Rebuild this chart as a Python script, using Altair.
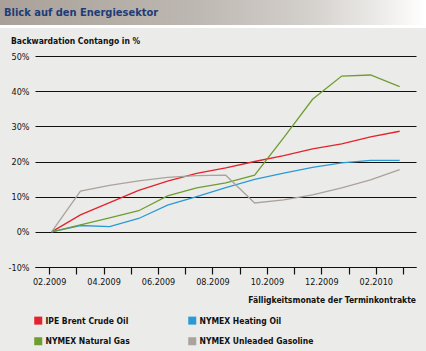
import altair as alt
import pandas as pd

chart_title = "Blick auf den Energiesektor"
y_title = "Backwardation Contango in %"
x_title = "Fälligkeitsmonate der Terminkontrakte"

# tick positions (months after 02.2009) and their labels
tick_values = list(range(14))
tick_labels = ["02.2009", "", "04.2009", "", "06.2009", "", "08.2009", "",
               "10.2009", "", "12.2009", "", "02.2010", ""]

# contract positions on the month axis
months = [0.09, 1.15, 2.22, 3.29, 4.35, 5.42, 6.49, 7.55, 8.62, 9.68, 10.75, 11.81, 12.88]

# legend order (filled column by column)
series_names = ["IPE Brent Crude Oil", "NYMEX Natural Gas",
                "NYMEX Heating Oil", "NYMEX Unleaded Gasoline"]
series_colors = ["#e3222b", "#6f9d2f", "#2a9ad6", "#aaa29b"]

brent = [0.0, 4.8, 8.3, 11.8, 14.4, 16.6, 18.2, 20.0, 21.7, 23.6, 25.0, 27.0, 28.6]
heating = [0.0, 1.8, 1.5, 3.8, 7.6, 10.0, 12.6, 14.9, 16.7, 18.3, 19.6, 20.3, 20.3]
natgas = [0.0, 2.0, 4.0, 6.0, 10.2, 12.5, 13.9, 16.1, 26.8, 37.7, 44.3, 44.6, 41.3]
gasoline = [0.0, 11.6, 13.2, 14.5, 15.5, 16.0, 16.1, 8.2, 9.1, 10.5, 12.5, 14.8, 17.7]

rows = []
for name, vals in zip(["IPE Brent Crude Oil", "NYMEX Heating Oil",
                       "NYMEX Natural Gas", "NYMEX Unleaded Gasoline"],
                      [brent, heating, natgas, gasoline]):
    for m, v in zip(months, vals):
        rows.append({"series": name, "month": m, "value": v})
df = pd.DataFrame(rows)

FONT = "DejaVu Sans Condensed, Roboto, sans-serif"
label_expr = "[" + ",".join("'" + l + "'" for l in tick_labels) + "][datum.value]"

one = pd.DataFrame({"a": [0]})

header_white = alt.Chart(one).mark_rect(fill="#ffffff").encode(
    x=alt.value(-35), x2=alt.value(391), y=alt.value(-56), y2=alt.value(-28))

header_bar = alt.Chart(one).mark_rect(
    fill=alt.LinearGradient(
        gradient="linear", x1=0, x2=1, y1=0, y2=0,
        stops=[alt.GradientStop(color="#a9a199", offset=0),
               alt.GradientStop(color="#bdb7b1", offset=0.45),
               alt.GradientStop(color="#d3cfcb", offset=0.72),
               alt.GradientStop(color="#ebe9e7", offset=0.88),
               alt.GradientStop(color="#ffffff", offset=1)])
).encode(x=alt.value(-35), x2=alt.value(391), y=alt.value(-56), y2=alt.value(-31))

title_text = alt.Chart(one).mark_text(
    text=chart_title, align="left", baseline="middle", font=FONT,
    fontSize=11, fontWeight="bold", color="#1d3c78"
).encode(x=alt.value(-31), y=alt.value(-43))

ytitle_text = alt.Chart(one).mark_text(
    text=y_title, align="left", baseline="middle", font=FONT,
    fontSize=8.5, fontWeight="bold", color="#111111"
).encode(x=alt.value(-24), y=alt.value(-15))

xtitle_text = alt.Chart(one).mark_text(
    text=x_title, align="right", baseline="middle", font=FONT,
    fontSize=8.5, fontWeight="bold", color="#111111"
).encode(x=alt.value(381), y=alt.value(244))

lines = alt.Chart(df).mark_line(strokeWidth=1.3).encode(
    x=alt.X("month:Q",
            scale=alt.Scale(domain=[-0.52, 13.48], nice=False, zero=False),
            axis=alt.Axis(values=tick_values, labelExpr=label_expr, title=None,
                          grid=False, domain=True, domainColor="#111111",
                          domainWidth=1.2, ticks=True, tickColor="#111111",
                          tickSize=7, tickWidth=1.2, labelPadding=3,
                          labelFont=FONT, labelFontSize=9, labelColor="#111111",
                          labelOverlap=False, labelFlush=False)),
    y=alt.Y("value:Q",
            scale=alt.Scale(domain=[-10, 50], nice=False, zero=False),
            axis=alt.Axis(values=[-10, 0, 10, 20, 30, 40, 50],
                          labelExpr="datum.value + '%'", title=None,
                          grid=True, gridColor="#111111", gridWidth=1.2,
                          domain=False, ticks=False, labelPadding=6,
                          labelFont=FONT, labelFontSize=9, labelColor="#111111")),
    color=alt.Color("series:N",
                    scale=alt.Scale(domain=series_names, range=series_colors),
                    sort=series_names,
                    legend=alt.Legend(title=None, orient="none", legendX=-1,
                                      legendY=260, columns=2, columnPadding=52,
                                      rowPadding=0, symbolType="square",
                                      symbolSize=16, symbolStrokeWidth=4,
                                      labelFont=FONT, labelFontSize=8.5,
                                      labelFontWeight="bold", labelColor="#111111",
                                      labelOffset=3, labelLimit=200)),
    order=alt.Order("month:Q"),
)

chart = alt.layer(
    header_white, header_bar, title_text, ytitle_text, xtitle_text, lines
).properties(
    width=381, height=211,
    autosize=alt.AutoSizeParams(type="none"),
    padding={"left": 35, "top": 56, "right": 10, "bottom": 84},
    background="#ebecea",
).configure_view(stroke=None)

chart.save("out.html", embed_options={"renderer": "svg", "actions": False})
